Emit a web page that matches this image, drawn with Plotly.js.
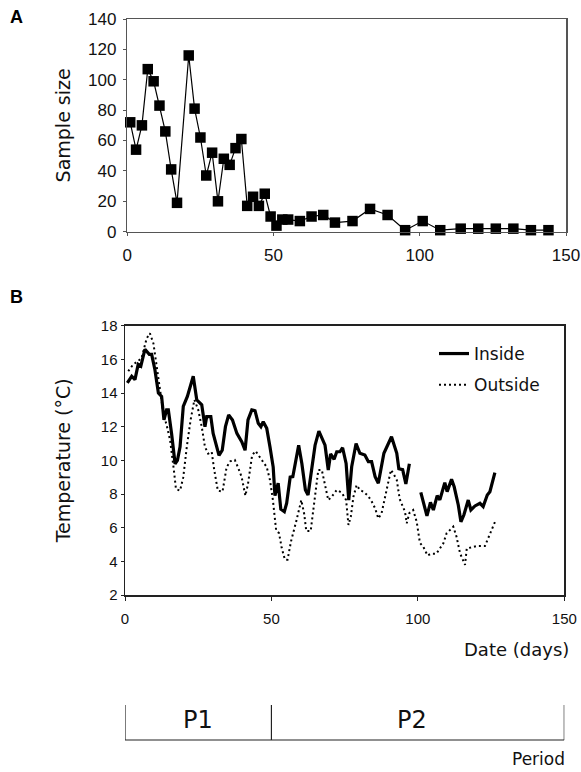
<!DOCTYPE html>
<html>
<head>
<meta charset="utf-8">
<script src="https://cdn.plot.ly/plotly-3.0.1.min.js"></script>
<style>html,body{margin:0;padding:0;background:#fff;}#chart{width:581px;height:772px;}</style>
</head>
<body>
<div id="chart"></div>
<script>
// Panel A: sample size by date (days)
const sampleDay = [1,3,5,7,9,11,13,15,17,21,23,25,27,29,31,33,35,37,39,41,43,45,47,49,51,53,55,59,63,67,71,77,83,89,95,101,107,114,120,126,132,138,144];
const sampleSize = [72,54,70,107,99,83,66,41,19,116,81,62,37,52,20,48,44,55,61,17,23,17,25,10,4,8,8,7,10,11,6,7,15,11,1,7,1,2,2,2,2,1,1];

// Panel B: temperature inside (solid) and outside (dotted)
const insideDay = [0.8,2.3,3.4,4.5,5.4,6.8,8.3,9.1,10.2,11.4,12.5,13.3,14.2,14.8,15.9,17.1,17.9,18.8,19.9,21.3,23.3,24.5,26.2,27.3,27.9,29.3,30.1,32.1,33.2,34.3,35.4,36.7,38.2,39.9,41.0,42.0,43.3,44.4,45.5,46.4,47.2,48.4,49.5,50.6,51.2,52.3,53.2,54.4,55.2,56.4,57.3,59.3,60.4,61.6,62.5,63.7,64.9,66.2,68.3,69.4,70.2,71.4,72.3,73.4,74.3,75.5,76.4,77.4,78.9,80.2,81.9,83.1,84.2,85.4,86.5,88.4,89.9,91.0,92.8,93.5,94.8,95.9,97.1,99,101.0,103.1,104.3,105.3,106.6,107.5,109.2,110.0,111.5,112.4,113.8,114.7,115.7,117.2,118.1,119.5,121.2,122.3,123.7,124.6,126.3];
const insideTemp = [14.6,15.0,14.8,15.7,15.6,16.6,16.3,16.3,15.4,14.0,13.8,12.4,13.0,13.0,11.6,9.8,10.0,10.8,13.2,13.8,15.0,13.6,13.3,12.0,12.6,12.6,11.6,10.3,10.6,12.0,12.7,12.4,11.6,11.1,10.6,12.4,13.0,12.95,12.2,12.0,12.3,11.9,10.8,9.6,7.9,8.65,7.1,6.95,7.45,9.0,9.03,10.9,9.8,8.24,7.94,9.43,10.9,11.74,10.9,9.43,10.38,10.06,10.51,10.51,10.75,9.82,7.64,9.62,11.0,10.42,10.32,9.92,9.92,9.03,8.64,10.42,11.0,11.4,10.42,9.5,9.45,8.6,9.8,null,8.1,6.7,7.5,7.05,7.9,7.65,8.67,8.14,8.87,8.43,7.35,6.35,6.75,7.64,7.05,7.29,7.45,7.25,7.94,8.14,9.27];
const outsideDay = [1.1,2.8,4.5,5.7,7.4,8.5,9.7,10.8,11.9,13.1,14.2,15.4,16.7,17.4,18.8,19.9,21.1,22.4,23.7,25.0,26.2,27.3,28.4,29.6,30.5,31.7,33.3,34.7,36.0,37.5,38.5,39.8,41.1,42.0,43.4,44.6,46.4,48.4,49.5,50.5,51.6,52.6,53.5,54.6,55.5,56.7,58.5,60.2,61.2,61.9,63.4,64.8,66.0,67.2,68.3,69.4,70.6,72.3,74.0,75.5,76.3,77.1,78.0,79.1,80.2,81.4,82.7,84.0,85.4,86.5,87.6,89.1,90.8,91.6,92.8,93.8,95.6,96.2,97.1,98.4,99.6,100.7,101.9,103.3,104.5,106.3,107.5,108.7,109.8,111.0,112.1,113.2,114.4,116.1,116.7,118.3,120.0,121.2,122.9,124.0,125.2,126.7];
const outsideTemp = [15.3,15.7,15.9,16.1,17.25,17.55,16.95,15.66,14.4,12.8,12.1,11.2,9.4,8.3,8.2,9.0,10.8,12.4,13.6,13.0,12.0,10.8,10.4,10.5,9.4,8.2,8.14,9.6,9.95,10.02,9.62,9.03,7.9,8.6,10.3,10.55,10.1,9.6,8.83,7.64,5.86,5.67,4.8,4.1,4.1,5.2,6.4,7.64,6.8,5.8,5.8,7.6,9.43,9.43,8.43,7.64,7.84,8.24,8.08,7.64,6.16,6.65,7.84,8.53,8.24,8.14,7.94,7.64,7.15,6.55,6.85,8.04,9.43,9.23,8.83,7.7,6.95,6.26,6.87,7.05,6.35,5.1,4.85,4.35,4.45,4.45,4.77,5.07,5.66,5.86,6.06,5.46,4.48,3.79,4.77,4.83,4.91,4.91,4.91,5.37,5.86,6.5];

// Period bracket
const periodBounds = [0, 50, 150];
const periodLabels = ['P1', 'P2'];
const periodLabelPos = [25, 98];

const W = 581, H = 772;
const px = v => v / W;
const py = v => 1 - v / H;

const tickFontA = {family: 'Liberation Sans, Arial, sans-serif', size: 17, color: '#111'};
const tickFontB = {family: 'Liberation Sans, Arial, sans-serif', size: 15, color: '#111'};
const titleFont = {family: 'DejaVu Sans, sans-serif', color: '#111'};

const traces = [
  {x: sampleDay, y: sampleSize, xaxis: 'x', yaxis: 'y', type: 'scatter', mode: 'lines+markers',
   line: {color: '#000', width: 1.2}, marker: {symbol: 'square', size: 10.5, color: '#000'},
   showlegend: false, cliponaxis: false},
  {x: insideDay, y: insideTemp, xaxis: 'x2', yaxis: 'y2', type: 'scatter', mode: 'lines', name: 'Inside',
   legendgroup: 'in', line: {color: '#000', width: 3.2}, connectgaps: false},
  {x: outsideDay, y: outsideTemp, xaxis: 'x2', yaxis: 'y2', type: 'scatter', mode: 'lines', name: 'Outside',
   legendgroup: 'out', line: {color: '#000', width: 2, dash: '2px,3px'}}
];

const shapes = [];
shapes.push({type: 'line', xref: 'x2', yref: 'paper', x0: periodBounds[0], x1: periodBounds[periodBounds.length-1],
  y0: py(740), y1: py(740), line: {color: '#222', width: 1.2}});
periodBounds.forEach(b => shapes.push({type: 'line', xref: 'x2', yref: 'paper', x0: b, x1: b,
  y0: py(740), y1: py(705), line: {color: '#222', width: 1.2}}));

const ann = (o) => Object.assign({showarrow: false, xanchor: 'center', yanchor: 'middle'}, o);
const annotations = [
  ann({text: '<b>A</b>', xref: 'paper', yref: 'paper', x: px(16), y: py(17),
   font: {family: 'Liberation Sans, Arial, sans-serif', size: 18, color: '#000'}}),
  ann({text: '<b>B</b>', xref: 'paper', yref: 'paper', x: px(16), y: py(297),
   font: {family: 'Liberation Sans, Arial, sans-serif', size: 18, color: '#000'}}),
  ann({text: 'Date (days)', xref: 'paper', yref: 'paper', x: px(571), y: py(649), xanchor: 'right',
   font: Object.assign({size: 18}, titleFont)}),
  ann({text: 'Period', xref: 'paper', yref: 'paper', x: px(567), y: py(759), xanchor: 'right',
   font: Object.assign({size: 17}, titleFont)})
];
periodLabels.forEach((t, i) => annotations.push(ann({text: t, xref: 'x2', yref: 'paper', x: periodLabelPos[i], y: py(720),
  font: Object.assign({size: 24}, titleFont)})));

const layout = {
  width: W, height: H,
  margin: {l: 0, r: 0, t: 0, b: 0},
  paper_bgcolor: '#fff', plot_bgcolor: '#fff',
  showlegend: true,
  legend: {x: px(434), y: py(336), xanchor: 'left', yanchor: 'top', bgcolor: 'rgba(0,0,0,0)',
    font: Object.assign({size: 17}, titleFont), tracegroupgap: 6},
  xaxis: {domain: [px(127.3), px(566)], range: [0, 150], anchor: 'y', tickvals: [0, 50, 100, 150],
    showline: true, mirror: true, linecolor: '#555', linewidth: 1.5, ticks: 'outside', ticklen: 3, tickcolor: '#555',
    tickfont: tickFontA, showgrid: false, zeroline: false, ticklabelstandoff: 4},
  yaxis: {domain: [py(231.7), py(19)], range: [0, 140], anchor: 'x', dtick: 20, tick0: 0,
    showline: true, mirror: true, linecolor: '#555', linewidth: 1.5, ticks: 'outside', ticklen: 3, tickcolor: '#555',
    tickfont: tickFontA, showgrid: false, zeroline: false, ticklabelstandoff: 3,
    title: {text: 'Sample size', font: Object.assign({size: 19}, titleFont), standoff: 12}},
  xaxis2: {domain: [px(125), px(564.3)], range: [0, 150], anchor: 'y2', tickvals: [0, 50, 100, 150],
    showline: true, mirror: true, linecolor: '#222', linewidth: 1.5, ticks: 'outside', ticklen: 4, tickcolor: '#222',
    tickfont: tickFontB, showgrid: false, zeroline: false, ticklabelstandoff: 5},
  yaxis2: {domain: [py(595), py(325.7)], range: [2, 18], anchor: 'x2', dtick: 2, tick0: 2,
    showline: true, mirror: true, linecolor: '#222', linewidth: 1.5, ticks: 'outside', ticklen: 3, tickcolor: '#222',
    tickfont: tickFontB, showgrid: false, zeroline: false,
    title: {text: 'Temperature (°C)', font: Object.assign({size: 19}, titleFont), standoff: 25}},
  shapes: shapes,
  annotations: annotations
};

Plotly.newPlot('chart', traces, layout, {displayModeBar: false, staticPlot: true});
</script>
</body>
</html>
